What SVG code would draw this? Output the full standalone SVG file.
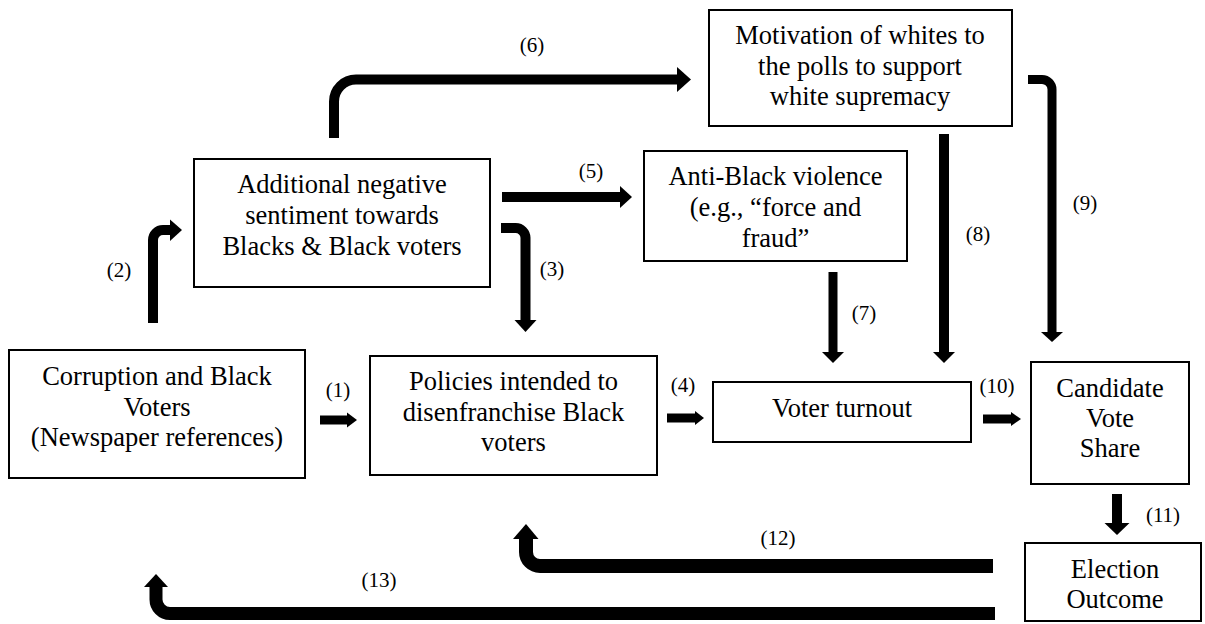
<svg xmlns="http://www.w3.org/2000/svg" width="1205" height="624" viewBox="0 0 1205 624">
<style>
.box{fill:#fff;stroke:#000;stroke-width:2}
.t{font-size:26.5px;fill:#000;text-anchor:middle}
.lbl{font-size:21px;fill:#000;text-anchor:middle}
.ln{fill:none;stroke:#000;stroke-linecap:butt;stroke-linejoin:miter}
.hd{fill:#000;stroke:none}
</style>
<rect width="1205" height="624" fill="#fff"/>
<g font-family="'Liberation Serif', 'Times New Roman', Times, 'DejaVu Serif', serif">
<g id="connectors">
  <path class="ln" stroke-width="9" d="M320,420 H348"/>
  <polygon class="hd" points="347,412.5 357,420 347,427.5"/>
  <path class="ln" stroke-width="10" d="M153,323 V240 A10,10 0 0 1 163,230 H171"/>
  <polygon class="hd" points="170,219.5 182,230 170,241"/>
  <path class="ln" stroke-width="10" d="M501,228 H515 A10,10 0 0 1 525.5,238.5 V321"/>
  <polygon class="hd" points="514.5,320 536.5,320 525.5,332"/>
  <path class="ln" stroke-width="9" d="M667,418 H696"/>
  <polygon class="hd" points="695,411 704,418 695,425"/>
  <path class="ln" stroke-width="10" d="M502,197 H621"/>
  <polygon class="hd" points="620,186 632,197 620,208"/>
  <path class="ln" stroke-width="10" d="M334,138 V101.5 A22,22 0 0 1 356,79.5 H678"/>
  <polygon class="hd" points="677,67 691,79.5 677,92"/>
  <path class="ln" stroke-width="9" d="M833,272 V353"/>
  <polygon class="hd" points="822,352 844,352 833,363"/>
  <path class="ln" stroke-width="10" d="M944,134 V353"/>
  <polygon class="hd" points="933,352 955,352 944,363"/>
  <path class="ln" stroke-width="9" d="M1028,79.5 H1042 A10,10 0 0 1 1052,89.5 V333"/>
  <polygon class="hd" points="1041,332 1063,332 1052,342"/>
  <path class="ln" stroke-width="9" d="M983,419 H1012"/>
  <polygon class="hd" points="1011,412 1021,419 1011,426"/>
  <path class="ln" stroke-width="10" d="M1117,494 V524"/>
  <polygon class="hd" points="1104.5,523 1129.5,523 1117,535"/>
  <path class="ln" stroke-width="14" d="M993,566 H540 A14,14 0 0 1 526,552 V538"/>
  <polygon class="hd" points="513,539 538.5,539 526,524"/>
  <path class="ln" stroke-width="13" d="M995,613.5 H170 A14,14 0 0 1 156,599.5 V586"/>
  <polygon class="hd" points="144,587 168,587 156,574"/>
  <text class="lbl" x="338" y="397">(1)</text>
  <text class="lbl" x="119" y="277">(2)</text>
  <text class="lbl" x="552" y="276">(3)</text>
  <text class="lbl" x="683" y="392">(4)</text>
  <text class="lbl" x="591" y="178">(5)</text>
  <text class="lbl" x="532" y="52">(6)</text>
  <text class="lbl" x="864" y="320">(7)</text>
  <text class="lbl" x="978" y="241">(8)</text>
  <text class="lbl" x="1085" y="210">(9)</text>
  <text class="lbl" x="997" y="393">(10)</text>
  <text class="lbl" x="1163" y="522">(11)</text>
  <text class="lbl" x="778" y="545">(12)</text>
  <text class="lbl" x="379" y="587">(13)</text>
</g>
<g id="corruption">
  <rect class="box" x="9" y="350" width="296" height="128"/>
  <text class="t" x="157" y="385">Corruption and Black</text>
  <text class="t" x="157" y="415.5">Voters</text>
  <text class="t" x="157" y="446">(Newspaper references)</text>
</g>
<g id="additional">
  <rect class="box" x="194" y="159" width="296" height="128"/>
  <text class="t" x="342" y="193">Additional negative</text>
  <text class="t" x="342" y="224">sentiment towards</text>
  <text class="t" x="342" y="255">Blacks &amp; Black voters</text>
</g>
<g id="motivation">
  <rect class="box" x="709" y="10" width="303" height="116"/>
  <text class="t" x="860" y="44">Motivation of whites to</text>
  <text class="t" x="860" y="75">the polls to support</text>
  <text class="t" x="860" y="105">white supremacy</text>
</g>
<g id="violence">
  <rect class="box" x="644" y="151" width="263" height="110"/>
  <text class="t" x="775.5" y="185">Anti-Black violence</text>
  <text class="t" x="775.5" y="216">(e.g., “force and</text>
  <text class="t" x="775.5" y="247">fraud”</text>
</g>
<g id="policies">
  <rect class="box" x="370" y="356" width="287" height="119"/>
  <text class="t" x="513.5" y="390">Policies intended to</text>
  <text class="t" x="513.5" y="420.5">disenfranchise Black</text>
  <text class="t" x="513.5" y="451">voters</text>
</g>
<g id="turnout">
  <rect class="box" x="713" y="382" width="258" height="60"/>
  <text class="t" x="842" y="417">Voter turnout</text>
</g>
<g id="voteshare">
  <rect class="box" x="1031" y="362" width="158" height="122"/>
  <text class="t" x="1110" y="397">Candidate</text>
  <text class="t" x="1110" y="427">Vote</text>
  <text class="t" x="1110" y="457">Share</text>
</g>
<g id="outcome">
  <rect class="box" x="1025" y="543" width="176" height="78"/>
  <text class="t" x="1115" y="578">Election</text>
  <text class="t" x="1115" y="608">Outcome</text>
</g>
</g>
</svg>
